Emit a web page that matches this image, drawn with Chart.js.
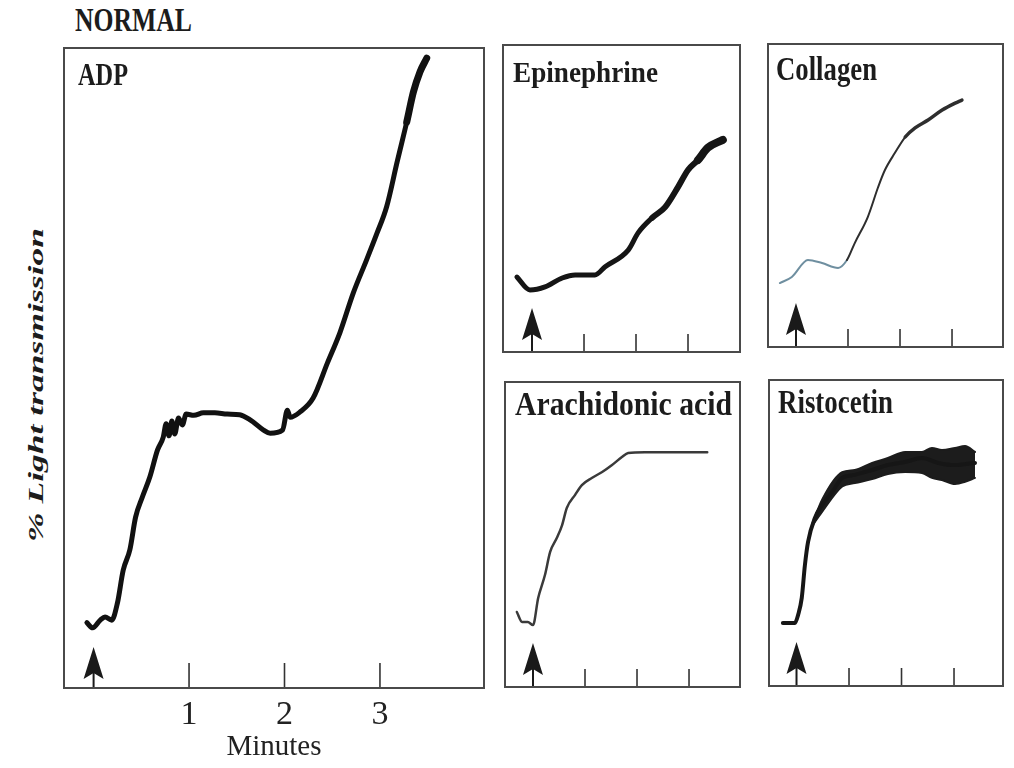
<!DOCTYPE html>
<html>
<head>
<meta charset="utf-8">
<script src="https://cdn.jsdelivr.net/npm/chart.js@4.4.1/dist/chart.umd.min.js"></script>
<style>
html,body{margin:0;padding:0;background:#fff;}
#stage{position:relative;width:1014px;height:768px;overflow:hidden;background:#fff;}
canvas{position:absolute;}
.lbl{position:absolute;white-space:nowrap;font-family:"Liberation Serif","Times New Roman",serif;font-weight:bold;color:#1c1c1c;line-height:1;transform-origin:0 0;}
</style>
</head>
<body>
<div id="stage">
  <canvas id="cADP" width="440" height="730" style="left:54px;top:38px"></canvas>
  <canvas id="cEPI" width="249" height="319" style="left:497px;top:39px"></canvas>
  <canvas id="cCOL" width="247" height="315" style="left:762px;top:38px"></canvas>
  <canvas id="cARA" width="247" height="317" style="left:499px;top:376px"></canvas>
  <canvas id="cRIS" width="246" height="318" style="left:763px;top:374px"></canvas>
</div>
<script>
// ---------- texts ----------
const FIGURE_TITLE = 'NORMAL';
const PANEL_TITLES = ['ADP', 'Epinephrine', 'Collagen', 'Arachidonic acid', 'Ristocetin'];
const Y_LABEL = '% Light transmission';
const X_LABEL = 'Minutes';
const TICK_MINUTES = [1, 2, 3];
const AGONIST_TIME = 0;

// ---------- data (minutes, % light transmission) ----------
const ADP_TIME  = [-0.07,-0.01,0.07,0.12,0.19,0.25,0.31,0.38,0.44,0.51,0.59,0.67,0.73,0.76,0.79,0.82,0.85,0.89,0.93,0.97,1.05,1.15,1.27,1.40,1.53,1.64,1.78,1.85,1.98,2.03,2.06,2.16,2.30,2.45,2.58,2.72,2.86,2.97,3.07,3.18,3.28,3.35,3.42,3.49];
const ADP_VALUE = [10.2,9.4,10.6,11.1,10.6,13.3,18.4,21.6,26.7,29.8,33.0,37.2,39.2,41.3,39.4,41.7,39.7,42.2,41.1,42.8,42.6,43.0,43.0,42.8,42.7,41.9,40.3,39.8,40.3,43.4,42.3,43.1,45.3,50.8,55.5,61.7,66.9,71.1,75.2,82.2,88.4,93.1,96.3,98.4];

const EPI_TIME  = [-0.29,-0.04,0.25,0.58,0.83,1.21,1.40,1.85,2.04,2.31,2.56,2.81,3.00,3.19,3.38,3.67];
const EPI_VALUE = [24.4,20.2,21.2,24.1,25.1,25.1,27.7,33.2,38.8,43.7,47.2,53.8,59.3,62.5,66.5,69.1];

const COL_TIME  = [-0.31,-0.08,0.23,0.50,0.81,0.98,1.13,1.38,1.58,1.71,1.90,2.10,2.29,2.54,2.81,3.06,3.19];
const COL_VALUE = [21.1,23.1,28.7,27.7,26.1,28.7,34.3,42.9,52.8,58.4,64.0,69.3,72.3,74.9,78.2,80.5,81.5];

const ARA_TIME  = [-0.31,-0.21,-0.10,0.00,0.10,0.23,0.33,0.46,0.56,0.65,0.81,0.94,1.13,1.33,1.52,1.71,1.83,2.15,2.48,2.79,3.12,3.35];
const ARA_VALUE = [24.6,21.3,21.3,20.3,29.2,36.7,44.3,48.9,53.1,58.7,63.0,66.2,68.5,70.5,72.8,75.4,76.7,77.0,77.0,77.0,77.0,77.0];

const RIS_TIME  = [-0.26,-0.03,0.03,0.10,0.16,0.22,0.35,0.49,0.68,0.87,1.11,1.44,1.74,2.07,2.39,2.70,3.02,3.40];
const RIS_VALUE = [20.6,20.6,23.2,28.8,39.5,47.1,54.9,59.2,63.4,68.0,69.0,70.6,72.2,73.2,74.5,72.9,72.2,72.9];
// noise envelope of the ristocetin trace
const RIS_BAND_TIME = [0.30,0.49,0.87,1.11,1.44,1.74,2.07,2.39,2.58,2.77,3.02,3.21,3.40];
const RIS_BAND_HIGH = [53.0,61.0,69.9,70.6,72.9,74.5,76.5,76.5,77.8,77.1,77.8,78.4,76.5];
const RIS_BAND_LOW  = [52.4,57.0,65.2,66.3,67.6,69.3,69.9,69.6,68.0,67.3,66.0,66.7,68.0];

const pts = (xs, ys) => xs.map((x, i) => ({x: x, y: ys[i]}));

// ---------- decoration plugin: box, inner minute ticks, agonist arrow ----------
const decor = {
  id: 'decor',
  afterDatasetsDraw(chart, args, o) {
    const {ctx, chartArea: a} = chart;
    const x = chart.scales.x;
    ctx.save();
    ctx.strokeStyle = '#333'; ctx.lineWidth = 1.6; ctx.lineCap = 'butt';
    x.ticks.forEach(t => {
      const px = x.getPixelForValue(t.value);
      ctx.beginPath(); ctx.moveTo(px, a.bottom); ctx.lineTo(px, a.bottom - o.tickLen); ctx.stroke();
    });
    const ax = x.getPixelForValue(o.arrowAt);
    const tip = a.bottom - o.tip, base = tip + 32, hw = 10, notch = 6;
    ctx.fillStyle = '#1a1a1a';
    ctx.beginPath();
    ctx.moveTo(ax, tip); ctx.lineTo(ax + hw, base); ctx.lineTo(ax, base - notch); ctx.lineTo(ax - hw, base);
    ctx.closePath(); ctx.fill();
    ctx.strokeStyle = '#1a1a1a'; ctx.lineWidth = 2;
    ctx.beginPath(); ctx.moveTo(ax, base - notch - 2); ctx.lineTo(ax, a.bottom); ctx.stroke();
    ctx.strokeStyle = '#4a4a4a'; ctx.lineWidth = 2;
    ctx.strokeRect(a.left, a.top, a.right - a.left, a.bottom - a.top);
    ctx.restore();
  }
};
Chart.register(decor);

function xScale(min, max, extra) {
  return Object.assign({
    type: 'linear', min: min, max: max, display: false,
    afterBuildTicks: s => { s.ticks = TICK_MINUTES.map(v => ({value: v})); },
    grid: {display: false, drawTicks: false},
    border: {display: false}
  }, extra || {});
}

function panel(id, xmin, xmax, datasets, pad, tip, tickLen, xExtra) {
  return new Chart(document.getElementById(id), {
    type: 'line',
    data: {datasets: datasets},
    options: {
      responsive: false, animation: false, devicePixelRatio: 1,
      layout: {padding: pad},
      events: [],
      plugins: {legend: {display: false}, tooltip: {enabled: false},
                decor: {arrowAt: AGONIST_TIME, tip: tip, tickLen: tickLen}},
      elements: {point: {radius: 0},
                 line: {cubicInterpolationMode: 'monotone', borderCapStyle: 'round', borderJoinStyle: 'round'}},
      scales: {
        x: xScale(xmin, xmax, xExtra),
        y: {type: 'linear', min: 0, max: 100, display: false}
      }
    }
  });
}

// ADP (large panel with the minute axis)
panel('cADP', -0.31, 4.09, [{
  data: pts(ADP_TIME, ADP_VALUE), borderColor: '#111', borderWidth: 5,
  segment: {borderWidth: c => c.p0.parsed.x > 3.2 ? 7 : 5}
}], {left: 10, right: 10, top: 10, bottom: 0}, 41, 25, {
  display: true,
  afterFit: s => { s.height = 80; },
  ticks: {color: '#222', padding: 7, font: {family: 'Liberation Serif', size: 34}},
  title: {display: true, text: X_LABEL, color: '#222', padding: {top: 0, bottom: 3},
          font: {family: 'Liberation Serif', size: 29}}
});

panel('cEPI', -0.558, 4.0, [{
  data: pts(EPI_TIME, EPI_VALUE), borderColor: '#151515', borderWidth: 5,
  segment: {borderWidth: c => c.p0.parsed.x > 3.0 ? 8 : (c.p0.parsed.x > 2.3 ? 6 : 5)}
}], 6, 44, 18);

panel('cCOL', -0.538, 3.98, [{
  data: pts(COL_TIME, COL_VALUE), borderColor: '#333', borderWidth: 2,
  segment: {
    borderColor: c => c.p0.parsed.x < 0.95 ? '#6f8fa0' : '#2e2e2e',
    borderWidth: c => c.p0.parsed.x > 2.0 ? 3.5 : 2
  }
}], 6, 44, 18);

panel('cARA', -0.538, 3.98, [{
  data: pts(ARA_TIME, ARA_VALUE), borderColor: '#3a3a3a', borderWidth: 2.5
}], 6, 44, 18);

panel('cRIS', -0.524, 3.933, [
  {data: pts(RIS_TIME, RIS_VALUE), borderColor: '#161616', borderWidth: 4},
  {data: pts(RIS_BAND_TIME, RIS_BAND_HIGH), borderColor: '#1c1c1c', borderWidth: 2},
  {data: pts(RIS_BAND_TIME, RIS_BAND_LOW), borderColor: '#1c1c1c', borderWidth: 2,
   fill: '-1', backgroundColor: '#1c1c1c'}
], 6, 44, 18);

// ---------- text placement ----------
const stage = document.getElementById('stage');
const TEXT_BOXES = [
  {text: FIGURE_TITLE,   left: 75,  base: 30.5, cap: 22, width: 117},
  {text: PANEL_TITLES[0], left: 78, base: 86,   cap: 21, width: 50},
  {text: PANEL_TITLES[1], left: 513, base: 82,  cap: 20, width: 145},
  {text: PANEL_TITLES[2], left: 776, base: 80,  cap: 22, width: 101},
  {text: PANEL_TITLES[3], left: 515, base: 415, cap: 22, width: 217},
  {text: PANEL_TITLES[4], left: 778, base: 413, cap: 22, width: 115}
];
TEXT_BOXES.forEach(b => {
  const el = document.createElement('div');
  el.className = 'lbl'; el.textContent = b.text;
  const F = b.cap / 0.662;
  el.style.fontSize = F + 'px';
  stage.appendChild(el);
  const w = el.getBoundingClientRect().width;
  el.style.left = b.left + 'px';
  el.style.top = (b.base - 0.8375 * F) + 'px';
  el.style.transform = 'scaleX(' + (b.width / w) + ')';
});
(function () {
  const el = document.createElement('div');
  el.className = 'lbl'; el.textContent = Y_LABEL;
  const F = 22;
  el.style.fontSize = F + 'px'; el.style.fontStyle = 'italic';
  stage.appendChild(el);
  const w = el.getBoundingClientRect().width;
  const cx = 36, cy = 385, len = 314;
  el.style.left = (cx - w / 2) + 'px';
  el.style.top = (cy - F / 2) + 'px';
  el.style.transformOrigin = '50% 50%';
  el.style.transform = 'rotate(-90deg) scaleX(' + (len / w) + ')';
})();
</script>
</body>
</html>
